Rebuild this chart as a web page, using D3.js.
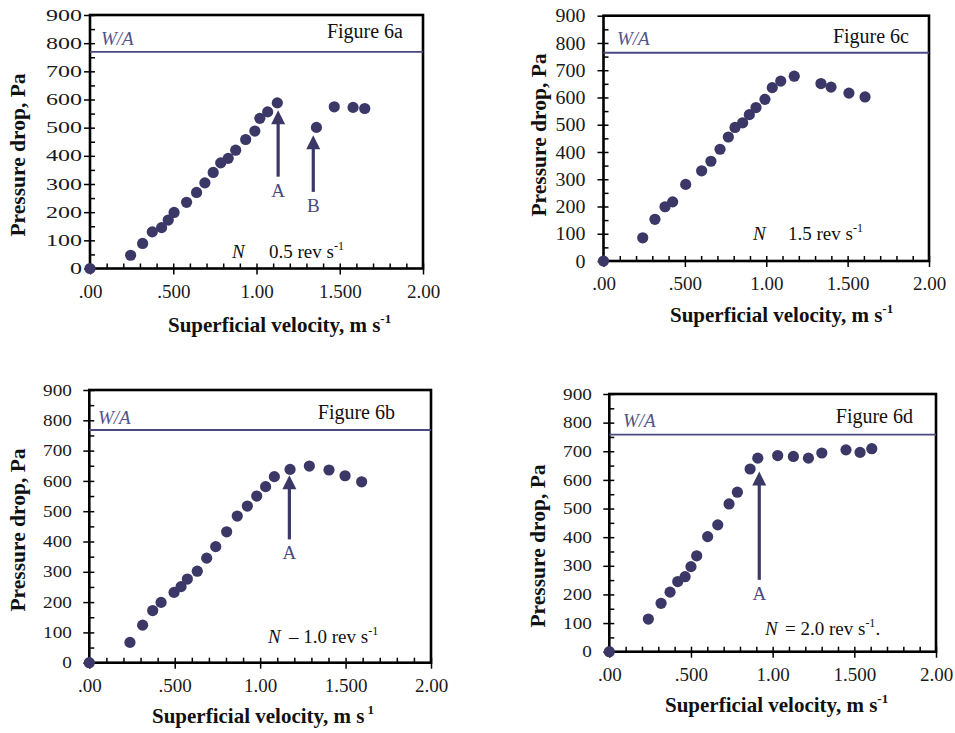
<!DOCTYPE html>
<html><head><meta charset="utf-8">
<script src="https://cdn.jsdelivr.net/npm/d3@7"></script>
<style>
html,body{margin:0;padding:0;background:#fff;}
svg{display:block;font-family:"Liberation Serif","Times New Roman",serif;}
</style></head>
<body>
<svg id="chart" width="955" height="733"></svg>
<script>
// ---------- data ----------
const xTickValues = [0, 0.5, 1.0, 1.5, 2.0];
const xTickLabels = [".00", ".500", "1.00", "1.500", "2.00"];
const yTickValues = [0, 100, 200, 300, 400, 500, 600, 700, 800, 900];
const yTickLabels = ["0", "100", "200", "300", "400", "500", "600", "700", "800", "900"];

const velocity6a = [0, 0.244, 0.316, 0.374, 0.43, 0.47, 0.505, 0.58, 0.64, 0.69, 0.74, 0.785, 0.83, 0.875, 0.935, 0.99, 1.02, 1.067, 1.125, 1.36, 1.467, 1.58, 1.65];
const pressure6a = [0, 47, 89, 130, 145, 172, 199, 235, 270, 304, 341, 375, 391, 420, 458, 488, 533, 556, 588, 501, 574, 572, 568];

const velocity6b = [0, 0.238, 0.312, 0.371, 0.42, 0.496, 0.537, 0.574, 0.632, 0.687, 0.74, 0.804, 0.866, 0.925, 0.98, 1.032, 1.083, 1.175, 1.288, 1.403, 1.497, 1.594];
const pressure6b = [0, 67, 124, 172, 199, 232, 251, 276, 302, 345, 383, 432, 484, 517, 550, 581, 614, 638, 649, 636, 617, 597];

const velocity6c = [0, 0.241, 0.316, 0.378, 0.425, 0.505, 0.603, 0.66, 0.716, 0.767, 0.808, 0.855, 0.896, 0.937, 0.992, 1.037, 1.089, 1.172, 1.336, 1.398, 1.508, 1.607];
const pressure6c = [0, 85, 153, 199, 217, 281, 331, 366, 410, 455, 490, 507, 537, 563, 593, 636, 660, 678, 651, 638, 616, 602];

const velocity6d = [0, 0.239, 0.317, 0.372, 0.419, 0.464, 0.5, 0.535, 0.602, 0.664, 0.733, 0.784, 0.862, 0.909, 1.031, 1.127, 1.219, 1.301, 1.449, 1.535, 1.607];
const pressure6d = [0, 114, 169, 208, 245, 262, 297, 335, 402, 443, 516, 557, 638, 676, 685, 682, 676, 694, 705, 696, 709];

const weightPerArea = {a: 769, b: 768, c: 764, d: 758};

const arrowX6a = [1.13, 1.341], arrowBase6a = [326, 272], arrowTip6a = [562, 473], arrowLabel6a = ["A", "B"];
const arrowX6b = [1.171], arrowBase6b = [407], arrowTip6b = [619], arrowLabel6b = ["A"];
const arrowX6c = [], arrowBase6c = [], arrowTip6c = [], arrowLabel6c = [];
const arrowX6d = [0.918], arrowBase6d = [251], arrowTip6d = [629], arrowLabel6d = ["A"];

// ---------- layout ----------
const panels = [
  {id:"a", vx:velocity6a, vy:pressure6a, ax:arrowX6a, ab:arrowBase6a, at:arrowTip6a, al:arrowLabel6a,
   L:90, R:423, T:15, B:268.5, yFont:16, yStretch:1.5, yGap:8,
   fig:"Figure 6a", figX:403, figY:38, waX:101, waY:45,
   nParts:[["N",232,258,true],["0.5 rev s",269,258,false]],
   yTitleX:17, yTitleY:155, xTitleX:168, xTitleY:332, xSup:"-1"},
  {id:"c", vx:velocity6c, vy:pressure6c, ax:arrowX6c, ab:arrowBase6c, at:arrowTip6c, al:arrowLabel6c,
   L:603.5, R:929, T:15.7, B:261, yFont:19, yStretch:1.05, yGap:18,
   fig:"Figure 6c", figX:909, figY:43, waX:617, waY:45,
   nParts:[["N",753,240,true],["1.5 rev s",788,240,false]],
   yTitleX:538, yTitleY:135, xTitleX:670, xTitleY:322, xSup:"-1"},
  {id:"b", vx:velocity6b, vy:pressure6b, ax:arrowX6b, ab:arrowBase6b, at:arrowTip6b, al:arrowLabel6b,
   L:89.3, R:431, T:390, B:662.7, yFont:16, yStretch:1.2, yGap:17.5,
   fig:"Figure 6b", figX:395, figY:419, waX:98, waY:424,
   nParts:[["N",268,643,true],["\u2013 1.0 rev s",289,643,false]],
   yTitleX:17, yTitleY:530, xTitleX:152, xTitleY:723, xSup:" 1"},
  {id:"d", vx:velocity6d, vy:pressure6d, ax:arrowX6d, ab:arrowBase6d, at:arrowTip6d, al:arrowLabel6d,
   L:609.3, R:936, T:394, B:651.7, yFont:16, yStretch:1.2, yGap:17.5,
   fig:"Figure 6d", figX:913, figY:423, waX:623, waY:427,
   nParts:[["N",765,635,true],["= 2.0 rev s",785,635,false]], nTail:".",
   yTitleX:537, yTitleY:546, xTitleX:665, xTitleY:712, xSup:"-1"}
];

const dotColor = "#3b3867";
const lineColor = "#4a4980";
const svg = d3.select("#chart");

panels.forEach(p => {
  const x = d3.scaleLinear().domain([0, 2]).range([p.L, p.R]);
  const y = d3.scaleLinear().domain([0, 900]).range([p.B, p.T]);
  const g = svg.append("g");

  // minor ticks (inside)
  const xMinor = d3.range(0.1, 2.0, 0.1).filter(v => Math.abs(v*2 - Math.round(v*2)) > 1e-6);
  const yMinor = d3.range(50, 900, 100);
  g.append("g").attr("transform", `translate(0,${p.B})`)
    .call(d3.axisBottom(x).tickValues(xMinor).tickSize(-5).tickFormat(""))
    .call(a => a.select(".domain").remove())
    .selectAll("line").attr("stroke", "#000").attr("stroke-width", 1.5);
  g.append("g").attr("transform", `translate(${p.L},0)`)
    .call(d3.axisLeft(y).tickValues(yMinor).tickSize(-5).tickFormat(""))
    .call(a => a.select(".domain").remove())
    .selectAll("line").attr("stroke", "#000").attr("stroke-width", 1.5);

  // major ticks (crossing)
  const xa = g.append("g").attr("transform", `translate(0,${p.B})`)
    .call(d3.axisBottom(x).tickValues(xTickValues).tickSize(6).tickPadding(14)
      .tickFormat((d, i) => xTickLabels[i]));
  xa.select(".domain").remove();
  xa.selectAll("line").attr("y1", -5).attr("stroke", "#000").attr("stroke-width", 1.5);
  xa.selectAll("text").attr("dy", null).attr("y", 29)
    .attr("font-family", "Liberation Serif").attr("font-size", 19).attr("fill", "#1a1a1a");

  const ya = g.append("g").attr("transform", `translate(${p.L},0)`)
    .call(d3.axisLeft(y).tickValues(yTickValues).tickSize(6)
      .tickFormat((d, i) => yTickLabels[i]));
  ya.select(".domain").remove();
  ya.selectAll("line").attr("x1", 5).attr("stroke", "#000").attr("stroke-width", 1.5);
  ya.selectAll("text")
    .attr("x", -p.yGap / p.yStretch)
    .attr("transform", `scale(${p.yStretch},1)`)
    .attr("font-family", "Liberation Serif").attr("font-size", p.yFont).attr("fill", "#1a1a1a");

  // frame
  g.append("rect").attr("x", p.L).attr("y", p.T).attr("width", p.R - p.L).attr("height", p.B - p.T)
    .attr("fill", "none").attr("stroke", "#000").attr("stroke-width", 2.6);

  // W/A line
  const wa = weightPerArea[p.id];
  g.append("line").attr("x1", x(0)).attr("x2", x(2)).attr("y1", y(wa)).attr("y2", y(wa))
    .attr("stroke", lineColor).attr("stroke-width", 1.8);
  g.append("text").attr("x", p.waX).attr("y", p.waY).text("W/A")
    .attr("font-style", "italic").attr("font-size", 19).attr("fill", "#55548a");

  // figure label
  g.append("text").attr("x", p.figX).attr("y", p.figY).attr("text-anchor", "end")
    .attr("font-size", 20).attr("fill", "#111").text(p.fig);

  // N label
  p.nParts.forEach((np, i) => {
    const t = g.append("text").attr("x", np[1]).attr("y", np[2]).attr("font-size", 19).attr("fill", "#111");
    t.append("tspan").text(np[0]).attr("font-style", np[3] ? "italic" : "normal");
    if (i === p.nParts.length - 1) {
      t.append("tspan").text("-1").attr("font-size", 12).attr("dy", -8);
      if (p.nTail) t.append("tspan").text(p.nTail).attr("dy", 8);
    }
  });

  // arrows
  p.ax.forEach((av, i) => {
    const cx = x(av), yt = y(p.at[i]), yb = y(p.ab[i]);
    g.append("line").attr("x1", cx).attr("x2", cx).attr("y1", yb).attr("y2", yt + 12)
      .attr("stroke", dotColor).attr("stroke-width", 3.2);
    g.append("path").attr("d", `M${cx},${yt} L${cx - 7},${yt + 14} L${cx + 7},${yt + 14} Z`)
      .attr("fill", dotColor);
    g.append("text").attr("x", cx).attr("y", yb + 20).attr("text-anchor", "middle")
      .attr("font-size", 19).attr("fill", "#4a4980").text(p.al[i]);
  });

  // points
  g.append("g").selectAll("circle").data(p.vx.map((v, i) => [v, p.vy[i]])).join("circle")
    .attr("cx", d => x(d[0])).attr("cy", d => y(d[1])).attr("r", 5.6).attr("fill", dotColor);

  // axis titles
  g.append("text").attr("transform", `translate(${p.yTitleX},${p.yTitleY}) rotate(-90)`)
    .attr("text-anchor", "middle").attr("dy", "0.35em")
    .attr("font-size", 21.5).attr("font-weight", "bold").attr("fill", "#111")
    .text("Pressure drop, Pa");
  const xt = g.append("text").attr("x", p.xTitleX).attr("y", p.xTitleY)
    .attr("font-size", 21).attr("font-weight", "bold").attr("fill", "#111");
  xt.append("tspan").text("Superficial velocity, m s");
  xt.append("tspan").text(p.xSup).attr("font-size", 13).attr("dy", -9);
});
</script>
</body></html>
